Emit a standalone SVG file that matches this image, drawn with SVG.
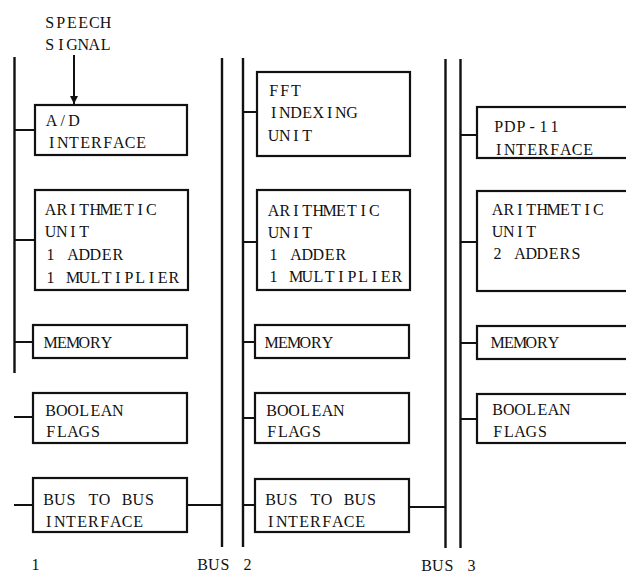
<svg xmlns="http://www.w3.org/2000/svg" width="626" height="576" viewBox="0 0 626 576">
<defs>
<style>
.box{fill:none;stroke:#111;stroke-width:2.2}
.bus{stroke:#111;stroke-width:2.4;fill:none}
.con{stroke:#111;stroke-width:2;fill:none}
text{font-family:"Liberation Serif","Times New Roman",serif;font-size:16px;fill:#111;text-anchor:middle}
</style>
<marker id="ah" viewBox="0 0 8 16" refX="8" refY="8" markerWidth="8" markerHeight="16" markerUnits="userSpaceOnUse" orient="auto">
<path d="M0,4 L8,8 L0,12 Z" fill="#111"/>
</marker>
</defs>
<rect width="626" height="576" fill="#fff"/>
<g id="buses">
<line class="bus" x1="14.5" y1="57" x2="14.5" y2="373"/>
<line class="bus" x1="222" y1="58" x2="222" y2="547"/>
<line class="bus" x1="243" y1="58" x2="243" y2="547"/>
<line class="bus" x1="445.5" y1="59" x2="445.5" y2="548"/>
<line class="bus" x1="460.5" y1="59" x2="460.5" y2="548"/>
</g>
<g id="connectors">
<line class="con" x1="74" y1="55" x2="74" y2="104" marker-end="url(#ah)"/>
<line class="con" x1="14" y1="130" x2="35" y2="130"/>
<line class="con" x1="14" y1="240" x2="35" y2="240"/>
<line class="con" x1="14" y1="342" x2="33" y2="342"/>
<line class="con" x1="14" y1="417" x2="33" y2="417"/>
<line class="con" x1="14" y1="505" x2="33" y2="505"/>
<line class="con" x1="187" y1="505" x2="222" y2="505"/>
<line class="con" x1="243" y1="112" x2="257" y2="112"/>
<line class="con" x1="243" y1="242" x2="257" y2="242"/>
<line class="con" x1="243" y1="342" x2="255" y2="342"/>
<line class="con" x1="243" y1="418" x2="255" y2="418"/>
<line class="con" x1="243" y1="505" x2="255" y2="505"/>
<line class="con" x1="409" y1="507" x2="445" y2="507"/>
<line class="con" x1="461" y1="135" x2="477" y2="135"/>
<line class="con" x1="461" y1="242" x2="477" y2="242"/>
<line class="con" x1="461" y1="343" x2="477" y2="343"/>
<line class="con" x1="461" y1="419" x2="477" y2="419"/>
</g>
<g id="speech-signal">
<text x="49.6 60.8 72 83.2 94.4 105.6" y="28">SPEECH</text>
<text x="49.6 60.8 72 83.2 94.4 105.6" y="50">SIGNAL</text>
</g>
<g id="ad-interface">
<rect class="box" x="35" y="105" width="152" height="50"/>
<text x="51.6 62.8 74" y="126">A/D</text>
<text x="51.6 62.8 74 85.2 96.4 107.6 118.8 130 141.2" y="148">INTERFACE</text>
</g>
<g id="arith1">
<rect class="box" x="35" y="190" width="153" height="100"/>
<text x="50.6 61.8 73 84.2 95.4 106.6 117.8 129 140.2 151.4" y="215">ARITHMETIC</text>
<text x="50.6 61.8 73 84.2" y="237">UNIT</text>
<text x="50.6 61.8 73 84.2 95.4 106.6 117.8" y="260">1 ADDER</text>
<text x="50.6 61.8 73 84.2 95.4 106.6 117.8 129 140.2 151.4 162.6 173.8" y="283">1 MULTIPLIER</text>
</g>
<g id="memory1">
<rect class="box" x="33" y="325" width="154" height="33"/>
<text x="50.6 61.8 73 84.2 95.4 106.6" y="348">MEMORY</text>
</g>
<g id="boolean1">
<rect class="box" x="33" y="393" width="154" height="50"/>
<text x="50.6 61.8 73 84.2 95.4 106.6 117.8" y="416">BOOLEAN</text>
<text x="50.6 61.8 73 84.2 95.4" y="437">FLAGS</text>
</g>
<g id="b2b1">
<rect class="box" x="33" y="478" width="154" height="54"/>
<text x="48.6 59.8 71 82.2 93.4 104.6 115.8 127 138.2 149.4" y="505">BUS TO BUS</text>
<text x="48.6 59.8 71 82.2 93.4 104.6 115.8 127 138.2" y="527">INTERFACE</text>
</g>
<g id="fft">
<rect class="box" x="257" y="72" width="153" height="84"/>
<text x="273.6 284.8 296" y="96">FFT</text>
<text x="273.6 284.8 296 307.2 318.4 329.6 340.8 352" y="118">INDEXING</text>
<text x="273.6 284.8 296 307.2" y="141">UNIT</text>
</g>
<g id="arith2">
<rect class="box" x="257" y="190" width="153" height="100"/>
<text x="273.6 284.8 296 307.2 318.4 329.6 340.8 352 363.2 374.4" y="216">ARITHMETIC</text>
<text x="273.6 284.8 296 307.2" y="238">UNIT</text>
<text x="273.6 284.8 296 307.2 318.4 329.6 340.8" y="260">1 ADDER</text>
<text x="273.6 284.8 296 307.2 318.4 329.6 340.8 352 363.2 374.4 385.6 396.8" y="282">1 MULTIPLIER</text>
</g>
<g id="memory2">
<rect class="box" x="255" y="325" width="154" height="33"/>
<text x="271.6 282.8 294 305.2 316.4 327.6" y="348">MEMORY</text>
</g>
<g id="boolean2">
<rect class="box" x="255" y="393" width="154" height="50"/>
<text x="271.6 282.8 294 305.2 316.4 327.6 338.8" y="416">BOOLEAN</text>
<text x="271.6 282.8 294 305.2 316.4" y="437">FLAGS</text>
</g>
<g id="b2b2">
<rect class="box" x="255" y="479" width="154" height="53"/>
<text x="270.6 281.8 293 304.2 315.4 326.6 337.8 349 360.2 371.4" y="505">BUS TO BUS</text>
<text x="270.6 281.8 293 304.2 315.4 326.6 337.8 349 360.2" y="527">INTERFACE</text>
</g>
<g id="pdp11">
<rect class="box" x="477" y="107" width="170" height="51"/>
<text x="498.6 509.8 521 532.2 543.4 554.6" y="132">PDP-11</text>
<text x="498.6 509.8 521 532.2 543.4 554.6 565.8 577 588.2" y="155">INTERFACE</text>
</g>
<g id="arith3">
<rect class="box" x="477" y="191" width="170" height="100"/>
<text x="497.6 508.8 520 531.2 542.4 553.6 564.8 576 587.2 598.4" y="215">ARITHMETIC</text>
<text x="497.6 508.8 520 531.2" y="237">UNIT</text>
<text x="497.6 508.8 520 531.2 542.4 553.6 564.8 576" y="259">2 ADDERS</text>
</g>
<g id="memory3">
<rect class="box" x="477" y="326" width="170" height="33"/>
<text x="497.6 508.8 520 531.2 542.4 553.6" y="348">MEMORY</text>
</g>
<g id="boolean3">
<rect class="box" x="477" y="394" width="170" height="49"/>
<text x="497.6 508.8 520 531.2 542.4 553.6 564.8" y="415">BOOLEAN</text>
<text x="497.6 508.8 520 531.2 542.4" y="437">FLAGS</text>
</g>
<g id="bus-labels">
<text x="35.6" y="570">1</text>
<text x="202.6 213.8 225 236.2 247.4" y="570">BUS 2</text>
<text x="426.6 437.8 449 460.2 471.4" y="571">BUS 3</text>
</g>
</svg>
